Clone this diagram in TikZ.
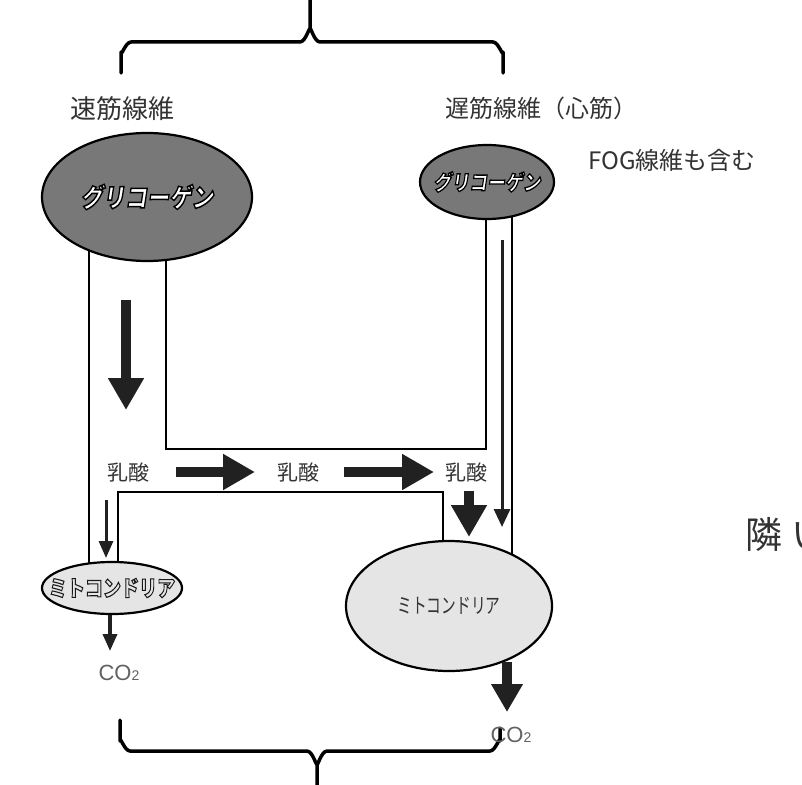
\documentclass[tikz,border=0pt]{standalone}
\usepackage{fontspec}
\usepackage{graphicx}
\setmainfont{Noto Sans CJK JP}
\newfontfamily\jpsl[FakeSlant=0.18]{Noto Sans CJK JP}
\newfontfamily\latf{Liberation Sans}
\usetikzlibrary{arrows.meta,shapes.geometric}
\newcommand\fsz[1]{\fontsize{#1}{#1}\selectfont}
% outlined text (fill + stroke): #1 stroke width, #2 stroke gray level, #3 fill colour, #4 text
\newcommand\outl[4]{{\color{#3}\special{pdf:literal direct 2 Tr #2 G #1 w}#4\special{pdf:literal direct 0 Tr}}}
\definecolor{glyc}{gray}{0.47}
\definecolor{mito}{gray}{0.9}
\definecolor{txt}{gray}{0.2}
\definecolor{arr}{gray}{0.13}
\definecolor{cotxt}{gray}{0.38}
\begin{document}
\begin{tikzpicture}[x=1pt,y=-1pt,
  brace/.style={line width=3.5pt, line cap=round, line join=round},
  pipe/.style={line width=2.2pt, line join=miter},
  glycnode/.style={ellipse, draw=black, line width=2.2pt, fill=glyc, inner sep=0pt},
  mitonode/.style={ellipse, draw=black, line width=2.2pt, fill=mito, inner sep=0pt},
  head/.style={text=txt, inner sep=0pt},
  lact/.style={text=txt, inner sep=0pt, font=\fsz{21}},
  cotext/.style={text=cotxt, inner sep=0pt, font=\latf\fsz{22}},
  bigarrow/.style={draw=arr, line width=10pt, -{Triangle[length=32pt,width=34pt]}},
  thinarrow/.style={draw=arr, line width=3pt, -{Triangle[length=17pt,width=14pt]}}]
\useasboundingbox (0,0) rectangle (802,784);
\clip (0,0) rectangle (802,784);

% braces
\draw[brace] (121,73) -- (121,52) to[out=-90,in=180] (131,42) -- (300,42)
  to[out=0,in=90] (310,30) -- (310,-5);
\draw[brace] (310,30) to[out=90,in=180] (320,42) -- (493,42)
  to[out=0,in=-90] (503,52) -- (503,73);
\draw[brace] (120,720) -- (120,741) to[out=90,in=180] (130,751) -- (307,751)
  to[out=0,in=-90] (317,763) -- (317,790);
\draw[brace] (317,763) to[out=-90,in=180] (327,751) -- (490,751)
  to[out=0,in=90] (500,741) -- (500,728);

% headings
\node[head, font=\fsz{26}] (fast) at (122,109) {速筋線維};
\node[head, font=\fsz{24}] (slow) at (541,108) {遅筋線維（心筋）};
\node[head, font=\fsz{24}] (fog) at (672,160) {FOG線維も含む};
\node[head, font=\fsz{37}, anchor=west] (rin) at (745,534) {隣\kern9pt い};

% pipes
\coordinate (p1a) at (89,240);  \coordinate (p1b) at (89,578);
\coordinate (p2a) at (166,240); \coordinate (p2b) at (166,449);
\coordinate (p2c) at (486,449); \coordinate (p2d) at (486,200);
\coordinate (p3a) at (512,200); \coordinate (p3b) at (512,578);
\coordinate (p4a) at (118,578); \coordinate (p4b) at (118,492);
\coordinate (p4c) at (443,492); \coordinate (p4d) at (443,578);
\draw[pipe] (p1a) -- (p1b);
\draw[pipe] (p2a) -- (p2b) -- (p2c) -- (p2d);
\draw[pipe] (p3a) -- (p3b);
\draw[pipe] (p4a) -- (p4b) -- (p4c) -- (p4d);

% glycogen
\node[glycnode, minimum width=210pt, minimum height=128pt] (gL) at (147,197)
  {\makebox[0pt]{\fsz{26}\jpsl\bfseries\scalebox{0.85}[1]{\outl{1.5}{0}{white}{グリコーゲン}}}};
\node[glycnode, minimum width=134pt, minimum height=74pt] (gR) at (487,182)
  {\makebox[0pt]{\fsz{21}\jpsl\bfseries\scalebox{0.85}[1]{\outl{1.3}{0}{white}{グリコーゲン}}}};

% mitochondria
\node[mitonode, minimum width=140pt, minimum height=52pt] (mL) at (112,588)
  {\makebox[0pt]{\fsz{22}\bfseries\scalebox{0.82}[1]{\outl{1.1}{0.1}{mito}{ミトコンドリア}}}};
\node[mitonode, minimum width=206pt, minimum height=130pt] (mR) at (449,606)
  {\makebox[0pt]{\fsz{21}\color{txt}\scalebox{0.7}[1]{ミトコンドリア}}};

% lactate labels
\node[lact] (l1) at (128,472) {乳酸};
\node[lact] (l2) at (298,472) {乳酸};
\node[lact] (l3) at (466,472) {乳酸};

% CO2 labels
\node[cotext] (c1) at (119,673) {CO{\fsz{14}2}};
\node[cotext] (c2) at (511,735) {CO{\fsz{14}2}};

% arrows
\coordinate (a1s) at (126,300); \coordinate (a1e) at (126,410);
\draw[bigarrow] (a1s) -- (a1e);
\coordinate (a2s) at (176,472); \coordinate (a2e) at (255,472);
\draw[bigarrow] (a2s) -- (a2e);
\coordinate (a3s) at (344,472); \coordinate (a3e) at (434,472);
\draw[bigarrow] (a3s) -- (a3e);
\coordinate (a4s) at (469,491); \coordinate (a4e) at (469,537);
\draw[bigarrow] (a4s) -- (a4e);
\coordinate (a5s) at (502,240); \coordinate (a5e) at (502,527);
\draw[thinarrow, -{Triangle[length=18pt,width=16pt]}] (a5s) -- (a5e);
\coordinate (a6s) at (106,500); \coordinate (a6e) at (106,558);
\draw[thinarrow] (a6s) -- (a6e);
\coordinate (a7s) at (110,615); \coordinate (a7e) at (110,651);
\draw[thinarrow, line width=3.5pt] (a7s) -- (a7e);
\coordinate (a8s) at (507,662); \coordinate (a8e) at (507,712);
\draw[bigarrow, -{Triangle[length=28pt,width=30pt]}] (a8s) -- (a8e);
\end{tikzpicture}
\end{document}
